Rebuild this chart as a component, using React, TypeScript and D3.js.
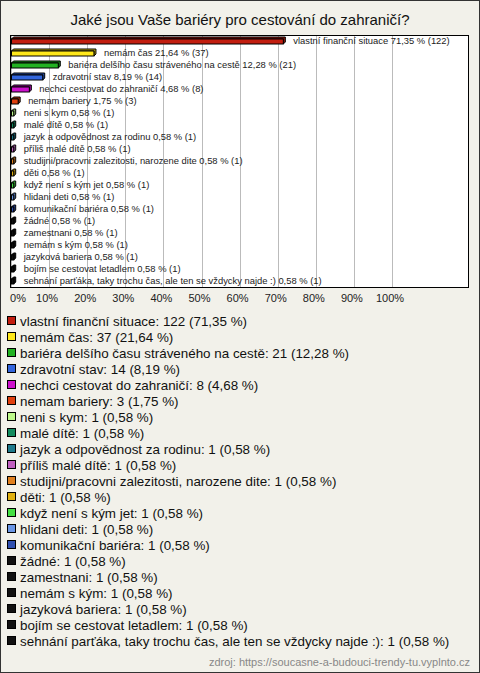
import React from "react";
import * as d3 from "d3";

const TITLE = "Jaké jsou Vaše bariéry pro cestování do zahraničí?";
const SOURCE = "zdroj: https://soucasne-a-budouci-trendy-tu.vyplnto.cz";

const categories = [
  "vlastní finanční situace",
  "nemám čas",
  "bariéra delšího času stráveného na cestě",
  "zdravotní stav",
  "nechci cestovat do zahraničí",
  "nemam bariery",
  "neni s kym",
  "malé dítě",
  "jazyk a odpovědnost za rodinu",
  "příliš malé dítě",
  "studijni/pracovni zalezitosti, narozene dite",
  "děti",
  "když není s kým jet",
  "hlidani deti",
  "komunikační bariéra",
  "žádné",
  "zamestnani",
  "nemám s kým",
  "jazyková bariera",
  "bojím se cestovat letadlem",
  "sehnání parťáka, taky trochu čas, ale ten se vždycky najde :)",
];
const counts = [122, 37, 21, 14, 8, 3, 1, 1, 1, 1, 1, 1, 1, 1, 1, 1, 1, 1, 1, 1, 1];
const percents = [71.35, 21.64, 12.28, 8.19, 4.68, 1.75, 0.58, 0.58, 0.58, 0.58, 0.58, 0.58, 0.58, 0.58, 0.58, 0.58, 0.58, 0.58, 0.58, 0.58, 0.58];
const colors = [
  "#C21E10", "#FFE81A", "#22B222", "#3366DD", "#CC11CC", "#E0400F",
  "#BDF98A", "#138C5F", "#1E7A8C", "#C060C0", "#E08020", "#E0B010",
  "#44E044", "#6A96E6", "#3050B0", "#111111", "#111111", "#111111",
  "#111111", "#111111", "#111111",
];
const ticks = [0, 10, 20, 30, 40, 50, 60, 70, 80, 90, 100];

const fmt = (v: number) => v.toFixed(2).replace(".", ",");

export default function App() {
  const W = 480, H = 673;
  const plot = { l: 10, r: 468, t: 35, b: 287 };
  const x = d3.scaleLinear().domain([0, 100]).range([11, 392]);
  const y = d3.scaleBand<string>().domain(categories).range([plot.t - 1, plot.t - 1 + categories.length * 12]);
  const legendY = d3.scaleBand<string>().domain(categories).range([313, 313 + categories.length * 16]);
  const font = "'Liberation Sans', Arial, sans-serif";
  const depth = 2;
  return (
    <svg width={W} height={H} style={{ position: "absolute", left: 0, top: 0 }} fontFamily={font}>
      <rect x={0.5} y={0.5} width={W - 1} height={H - 1} fill="#F2F1EA" stroke="#333" />
      <text x={W / 2} y={25} textAnchor="middle" fontSize={15} fill="#111">{TITLE}</text>
      <rect x={plot.l + 0.5} y={plot.t + 0.5} width={plot.r - plot.l} height={plot.b - plot.t} fill="#fff" />
      {ticks.map((t) => (
        <line key={"g" + t} x1={Math.round(x(t)) + 0.5} x2={Math.round(x(t)) + 0.5} y1={plot.t} y2={plot.b} stroke="#BBBBBB" />
      ))}
      <rect x={plot.l + 0.5} y={plot.t + 0.5} width={plot.r - plot.l} height={plot.b - plot.t} fill="none" stroke="#000" />
      {categories.map((c, i) => {
        const cy = (y(c) as number) + y.bandwidth() / 2 + 1.5;
        const x0 = x(0) + 0.5;
        const x1 = x(percents[i]) + 0.5;
        const top = cy - 2.5;
        const bot = cy + 2.5;
        const dark = d3.color(colors[i])!.darker(0.8).toString();
        return (
          <g key={c}>
            <polygon
              points={`${x0},${top} ${x0 + depth},${top - depth} ${x1 + depth},${top - depth} ${x1 + depth},${bot - depth} ${x1},${bot} ${x1},${top}`}
              fill={dark}
              stroke="#000"
              strokeWidth={1}
              strokeLinejoin="round"
            />
            <rect x={x0} y={top} width={Math.max(x1 - x0, 0.5)} height={bot - top} fill={colors[i]} stroke="#000" strokeWidth={1} />
            <text x={x1 + depth + 8} y={cy + 2.5} fontSize={9.4} fill="#222">
              {`${c} ${fmt(percents[i])} % (${counts[i]})`}
            </text>
          </g>
        );
      })}
      {ticks.map((t) => (
        <text key={"t" + t} x={t === 0 ? x(t) + 7 : x(t) - 2} y={302} textAnchor="middle" fontSize={11} fill="#222">
          {t + "%"}
        </text>
      ))}
      {categories.map((c, i) => {
        const cy = (legendY(c) as number) + legendY.bandwidth() / 2;
        return (
          <g key={"l" + c}>
            <rect x={7.5} y={cy - 4.5} width={8} height={8} fill={colors[i]} stroke="#000" />
            <text x={20} y={cy + 4.5} fontSize={13.4} fill="#111">
              {`${c}: ${counts[i]} (${fmt(percents[i])} %)`}
            </text>
          </g>
        );
      })}
      <text x={470} y={666} textAnchor="end" fontSize={11} fill="#888">{SOURCE}</text>
    </svg>
  );
}
